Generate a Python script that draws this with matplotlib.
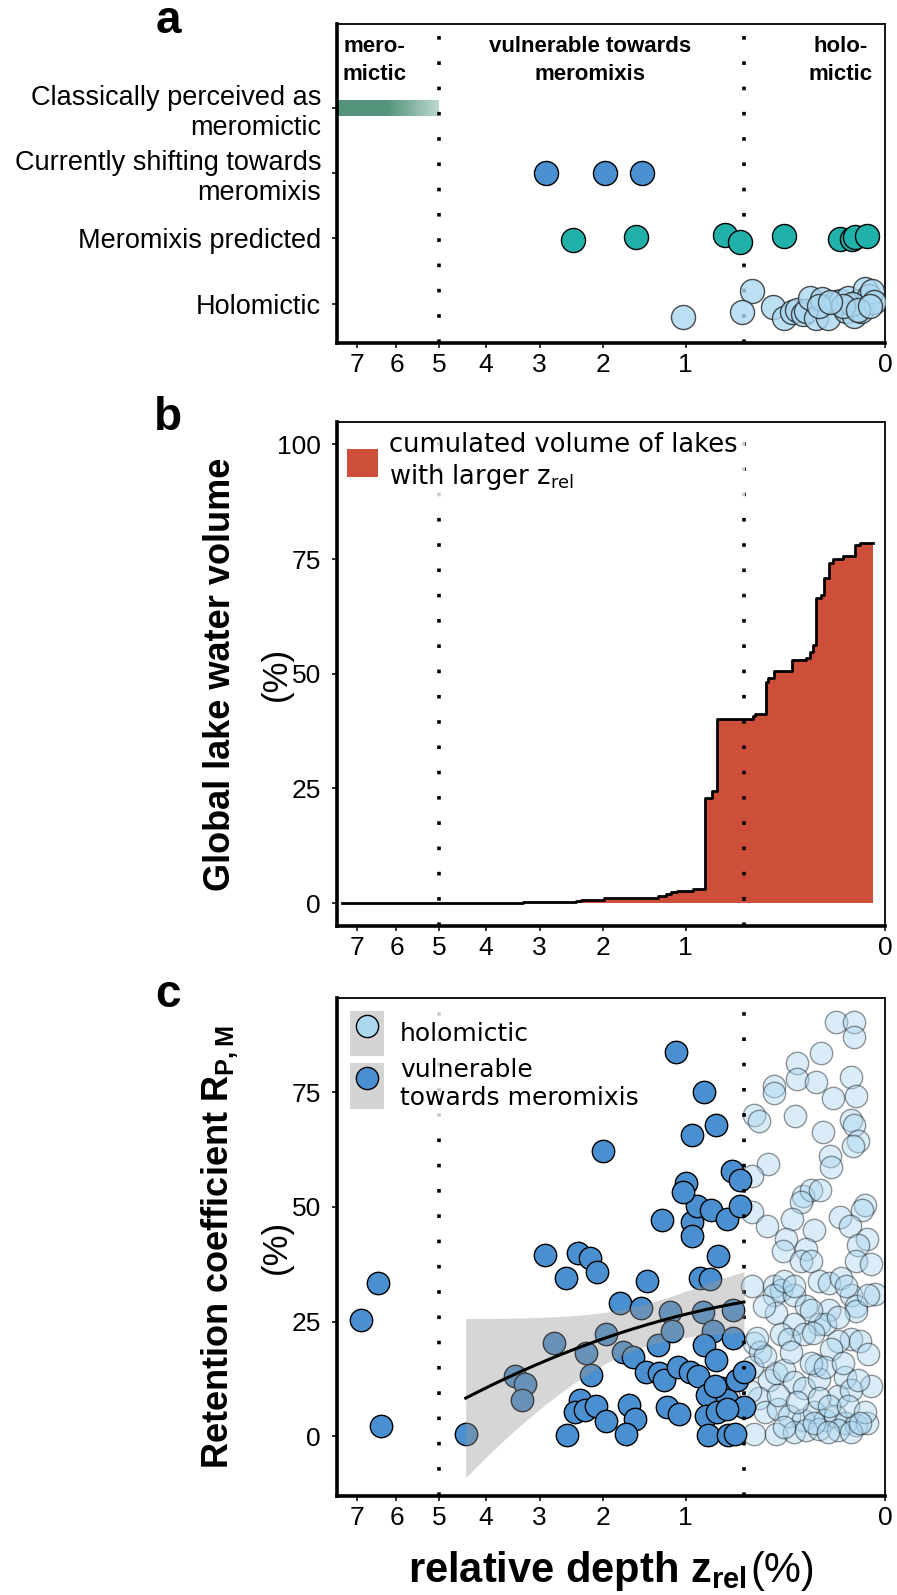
import numpy as np
import matplotlib
matplotlib.use('Agg')
import matplotlib.pyplot as plt
import matplotlib.colors as mcolors
from matplotlib import font_manager
from matplotlib.lines import Line2D
from matplotlib.patches import Patch
from matplotlib.legend_handler import HandlerTuple

plt.rcParams['font.family'] = ['Liberation Sans', 'DejaVu Sans']
plt.rcParams['mathtext.default'] = 'regular'

# ---------------- data: panel a ----------------
cat_labels = ['Holomictic', 'Meromixis predicted',
              'Currently shifting towards\nmeromixis',
              'Classically perceived as\nmeromictic']
classic_range = [8.0, 5.0]
shifting_z = [2.89, 1.97, 1.48]
predicted_z = [2.45, 1.56, 0.644, 0.526, 0.255, 0.052, 0.027, 0.023, 0.0077]
predicted_jit = [-0.03, 0.02, 0.056, -0.056, 0.036, -0.005, -0.005, 0.025, 0.036]
holo_a_z = [1.03, 0.444, 0.515, 0.316, 0.257, 0.218, 0.193, 0.170, 0.155, 0.141,
            0.121, 0.100, 0.081, 0.061, 0.048, 0.038, 0.0335, 0.024, 0.0164, 0.014,
            0.010, 0.0068, 0.0041, 0.003, 0.027, 0.044, 0.109, 0.0755, 0.019, 0.0054]
holo_a_jit = [-0.20, 0.20, -0.13, -0.05, -0.22, -0.13, -0.09, -0.16, -0.11, 0.09,
              -0.21, 0.08, -0.21, 0.02, 0.04, -0.11, 0.09, -0.19, 0.04, -0.11,
              0.22, 0.12, 0.19, 0.02, -0.01, -0.04, -0.04, 0.02, -0.09, -0.04]
zone_bounds = [5.0, 0.5]
zone_labels = ['mero-\nmictic', 'vulnerable towards\nmeromixis', 'holo-\nmictic']
zone_label_z = [6.55, 2.19, 0.05]

# ---------------- data: panel b ----------------
vol_z = [7.4, 3.3, 2.4, 2.33, 1.99, 1.62, 1.29, 1.21, 1.15, 1.09, 0.925, 0.815,
         0.75, 0.71, 0.435, 0.423, 0.359, 0.343, 0.312, 0.218, 0.155, 0.141,
         0.13, 0.121, 0.103, 0.094, 0.078, 0.0676, 0.044, 0.0227, 0.016, 0.0035]
vol_cum = [0.0, 0.15, 0.45, 0.7, 1.0, 1.2, 1.5, 2.0, 2.5, 2.7, 3.0, 22.8,
           24.5, 40.1, 40.7, 41.2, 48.1, 49.1, 50.6, 53.1, 53.5, 54.7,
           56.2, 66.5, 67.2, 70.9, 74.1, 75.0, 75.6, 78.1, 78.6, 78.6]

# ---------------- data: panel c ----------------
vuln_z = [6.89, 6.45, 6.38, 4.42, 2.90, 2.37, 2.19, 2.08, 2.56, 2.005, 2.75, 3.44, 3.26, 3.32,
          2.25, 2.17, 1.96, 1.77, 1.50, 1.42, 1.72, 1.60, 1.44, 1.28, 1.23, 1.30, 1.16, 1.14,
          1.08, 0.96, 0.88, 0.83, 0.74, 0.82, 0.72, 2.34, 2.41, 2.26, 2.10, 1.96, 2.54, 1.65,
          1.57, 1.68, 1.19, 1.07, 0.80, 0.81, 0.79, 0.62, 0.67, 0.63, 1.25, 0.94, 0.94, 0.89,
          0.76, 0.63, 1.00, 1.03, 0.94, 0.82, 0.72, 1.10, 0.70, 0.86, 0.77, 0.59, 0.53, 0.53,
          0.58, 0.58, 0.73, 0.55, 0.50, 0.71, 0.50, 0.565, 0.63]
vuln_r = [25.3, 33.4, 2.2, 0.5, 39.4, 40.0, 38.9, 35.9, 34.4, 62.2, 20.3, 13.1, 11.5, 7.9,
          18.1, 13.3, 22.4, 29.0, 28.0, 33.8, 18.3, 17.2, 14.1, 13.9, 12.2, 19.9, 27.0, 23.0,
          15.2, 14.1, 13.1, 27.0, 23.0, 19.9, 16.6, 7.9, 5.2, 5.8, 6.6, 3.3, 0.3, 6.9,
          3.8, 0.4, 6.3, 4.8, 9.1, 4.4, 0.2, 0.2, 10.6, 7.9, 47.1, 46.6, 43.7, 50.1,
          49.3, 47.4, 55.1, 53.2, 65.7, 75.0, 67.9, 83.7, 39.2, 34.6, 34.2, 57.8, 55.9, 50.1,
          27.6, 21.4, 11.0, 12.2, 14.1, 5.2, 6.3, 0.5, 6.0]
holo_z = [0.060, 0.024, 0.024, 0.103, 0.196, 0.196, 0.12, 0.029, 0.31, 0.31, 0.069, 0.021,
          0.43, 0.40, 0.205, 0.098, 0.029, 0.024, 0.018, 0.026, 0.075, 0.073, 0.345, 0.445,
          0.171, 0.138, 0.105, 0.178, 0.010, 0.013, 0.445, 0.35, 0.216, 0.128, 0.052, 0.030,
          0.0086, 0.248, 0.26, 0.158, 0.018, 0.178, 0.138, 0.021, 0.0046, 0.445, 0.31, 0.27,
          0.108, 0.078, 0.048, 0.029, 0.0025, 0.31, 0.208, 0.158, 0.078, 0.30, 0.021, 0.021,
          0.208, 0.108, 0.092, 0.029, 0.016, 0.0071, 0.056, 0.073, 0.27, 0.23, 0.164, 0.132,
          0.43, 0.39, 0.12, 0.0046, 0.34, 0.30, 0.257, 0.208, 0.164, 0.108, 0.041, 0.056,
          0.029, 0.40, 0.36, 0.29, 0.23, 0.171, 0.126, 0.092, 0.064, 0.041, 0.021, 0.0086,
          0.43, 0.30, 0.208, 0.158, 0.108, 0.056, 0.457, 0.445,
          0.257, 0.208, 0.038, 0.138, 0.056, 0.0071, 0.36, 0.224, 0.138, 0.092, 0.045, 0.018,
          0.29, 0.193, 0.108, 0.078, 0.035, 0.010, 0.257, 0.126, 0.082, 0.029, 0.016, 0.37, 0.41]
holo_r = [90.3, 90.2, 87.1, 83.5, 81.4, 77.9, 77.3, 78.3, 76.4, 74.8, 73.7, 74.1,
          70.0, 68.7, 69.7, 66.3, 69.0, 67.9, 64.4, 63.2, 61.1, 58.6, 59.4, 56.7,
          52.4, 53.6, 53.6, 51.0, 50.5, 49.3, 48.9, 45.8, 47.4, 45.0, 47.8, 45.8,
          43.1, 43.0, 40.4, 40.8, 41.6, 38.1, 38.1, 38.1, 37.5, 32.7, 32.7, 31.9,
          33.8, 33.4, 34.6, 30.7, 31.1, 30.7, 30.7, 28.4, 27.6, 26.9, 28.4, 27.2,
          24.5, 24.5, 24.5, 21.1, 20.7, 18.0, 20.7, 19.1, 22.2, 21.1, 22.2, 22.6,
          20.3, 18.3, 15.6, 11.0, 12.2, 13.7, 14.5, 11.8, 10.6, 12.5, 12.9, 8.7,
          10.2, 8.3, 5.2, 6.0, 4.4, 3.6, 5.2, 3.6, 4.4, 2.9, 2.5, 2.9,
          0.5, 0.5, 0.9, 1.3, 1.7, 1.3, 9.8, 15.2,
          33.8, 32.7, 32.7, 27.6, 26.1, 30.7, 17.6, 18.3, 16.0, 15.2, 16.0, 12.2,
          9.1, 7.5, 8.3, 6.7, 6.7, 5.2, 2.1, 2.9, 0.9, 0.9, 2.9, 28.4, 21.4]

vuln_color = '#4a8fcf'
teal = '#20b2aa'
holo_color = '#abd7f0'
red = '#cd4f3a'

x_ticks = [7, 6, 5, 4, 3, 2, 1, 0]
x_left = 7.55


def fwd(x):
    return np.sqrt(np.clip(x, 0, None))


def inv(x):
    return np.square(x)


def base_style(ax):
    ax.set_xscale('function', functions=(fwd, inv))
    ax.set_xlim(x_left, 0)
    ax.set_xticks(x_ticks)
    ax.set_xticklabels([str(t) for t in x_ticks])
    ax.spines['left'].set_linewidth(2.6)
    ax.spines['bottom'].set_linewidth(2.6)
    ax.spines['top'].set_linewidth(1.3)
    ax.spines['right'].set_linewidth(1.3)
    ax.tick_params(axis='both', length=3.5, width=1.1, labelsize=19, color='black')
    ax.tick_params(axis='x', pad=4)
    ax.tick_params(axis='y', pad=8)
    for z in zone_bounds:
        ax.axvline(z, color='black', lw=2.6, ls=(0, (1, 6)), dash_capstyle='butt', zorder=4)


fig = plt.figure(figsize=(8.97, 15.95), dpi=100)
L, W = 337 / 897, 548 / 897
ax_a = fig.add_axes([L, 1 - 343 / 1595, W, 319 / 1595])
ax_b = fig.add_axes([L, 1 - 926 / 1595, W, 504.5 / 1595])
ax_c = fig.add_axes([L, 1 - 1496 / 1595, W, 498 / 1595])

# ================= panel a =================
base_style(ax_a)
ax_a.set_ylim(0.40, 5.28)
ax_a.set_yticks([1, 2, 3, 4])
ax_a.set_yticklabels(cat_labels, fontsize=19.5, ha='right', multialignment='right')

# gradient bar for classically meromictic lakes
s0, s1 = np.sqrt(classic_range[1]), np.sqrt(classic_range[0])
edges = np.linspace(s0, s1, 61) ** 2
dark = np.array(mcolors.to_rgb('#52937a'))
light = np.array(mcolors.to_rgb('#b9d6ca'))
for i in range(60):
    f = (np.sqrt(edges[i]) - s0) / (np.sqrt(x_left) - s0)
    w = min(1.0, f / 0.5)
    col = light + (dark - light) * w
    ax_a.barh(4, edges[i + 1] - edges[i], left=edges[i], height=0.24,
              color=col, edgecolor='none', zorder=2)

ax_a.scatter(shifting_z, [3] * len(shifting_z), s=300, c=vuln_color,
             edgecolors='black', linewidths=1.0, zorder=5)
ax_a.scatter(predicted_z, 2 + np.array(predicted_jit), s=300, c=teal,
             edgecolors='black', linewidths=1.0, zorder=5)
ax_a.scatter(holo_a_z, 1 + np.array(holo_a_jit), s=300, c=holo_color, alpha=0.8,
             edgecolors='#222222', linewidths=1.0, zorder=5)

names = {f.name for f in font_manager.fontManager.ttflist}
if 'Liberation Sans Narrow' in names:
    head_font, head_size = 'Liberation Sans Narrow', 19
else:
    head_font, head_size = 'Liberation Sans', 16
for zx, lab in zip(zone_label_z, zone_labels):
    ax_a.text(zx, 4.72, lab, ha='center', va='center', fontsize=head_size,
              fontweight='bold', family=head_font, linespacing=1.4)

# ================= panel b =================
base_style(ax_b)
ax_b.set_ylim(-5, 105)
ax_b.set_yticks([0, 25, 50, 75, 100])
ax_b.fill_between(vol_z, vol_cum, 0, step='post', color=red, lw=0, zorder=2,
                  label='cumulated volume of lakes\nwith larger z$_{rel}$')
ax_b.step(vol_z, vol_cum, where='post', color='black', lw=2.0, zorder=3)
leg_b = ax_b.legend(loc='upper left', bbox_to_anchor=(0.0, 1.0), borderaxespad=0.1,
                    borderpad=0.3, prop={'family': 'DejaVu Sans', 'size': 18.5},
                    handlelength=1.2, handleheight=1.3, handletextpad=0.42,
                    frameon=True, fancybox=False, framealpha=0.8, edgecolor='none')
leg_b.set_zorder(10)

# ================= panel c =================
base_style(ax_c)
ax_c.set_ylim(-13, 95.5)
ax_c.set_yticks([0, 25, 50, 75])

ax_c.scatter(holo_z, holo_r, s=260, facecolors=mcolors.to_rgba(holo_color, 0.45),
             edgecolors=(0, 0, 0, 0.4), linewidths=1.0, zorder=2)
ax_c.scatter(vuln_z, vuln_r, s=260, c=vuln_color, edgecolors='black',
             linewidths=1.0, zorder=3)

# linear fit with 95% confidence band for vulnerable lakes between the bounds
vz = np.array(vuln_z)
vr = np.array(vuln_r)
m = (vz <= zone_bounds[0]) & (vz >= zone_bounds[1])
xf, yf = vz[m], vr[m]
b1, b0 = np.polyfit(xf, yf, 1)
n = len(xf)
resid = yf - (b0 + b1 * xf)
s_err = np.sqrt(np.sum(resid ** 2) / (n - 2))
xs = np.linspace(xf.min(), xf.max(), 200)
se = s_err * np.sqrt(1 / n + (xs - xf.mean()) ** 2 / np.sum((xf - xf.mean()) ** 2))
t_crit = 1.99
ax_c.fill_between(xs, b0 + b1 * xs - t_crit * se, b0 + b1 * xs + t_crit * se,
                  color='#999999', alpha=0.4, lw=0, zorder=4)
ax_c.plot(xs, b0 + b1 * xs, color='black', lw=2.2, zorder=5)

key_bg = '#d4d4d4'
h_holo = (Patch(facecolor=key_bg, edgecolor='none'),
          Line2D([], [], marker='o', ls='', ms=16, mfc=holo_color, mec='black', mew=1.0))
h_vuln = (Patch(facecolor=key_bg, edgecolor='none'),
          Line2D([], [], marker='o', ls='', ms=16, mfc=vuln_color, mec='black', mew=1.0))
leg_c = ax_c.legend([h_holo, h_vuln], ['holomictic', 'vulnerable\ntowards meromixis'],
                    handler_map={tuple: HandlerTuple(ndivide=1, pad=0)},
                    loc='upper left', bbox_to_anchor=(0.0, 1.0), borderaxespad=0.1,
                    borderpad=0.4, prop={'family': 'DejaVu Sans', 'size': 18},
                    handlelength=1.36, handleheight=2.44, handletextpad=0.65,
                    labelspacing=0.08, frameon=True, fancybox=False,
                    framealpha=0.8, edgecolor='none')
leg_c.set_zorder(10)

# ================= labels =================
for lab, yb in zip(['a', 'b', 'c'], [33, 430, 1007]):
    fig.text(168 / 897, 1 - yb / 1595, lab, fontsize=33, fontweight='bold',
             ha='center', va='baseline')

fig.text(220 / 897, 1 - 674 / 1595, 'Global lake water volume', rotation=90,
         fontsize=26, fontweight='bold', ha='center', va='center')
fig.text(276 / 897, 1 - 674 / 1595, '(%)', rotation=90, fontsize=25,
         ha='center', va='center')
fig.text(220 / 897, 1 - 1247 / 1595, 'Retention coefficient R$_{P,M}$', rotation=90,
         fontsize=26, fontweight='bold', ha='center', va='center')
fig.text(276 / 897, 1 - 1247 / 1595, '(%)', rotation=90, fontsize=25,
         ha='center', va='center')
fig.text(747 / 897, 1 - 1571 / 1595, 'relative depth z$_{rel}$', fontsize=30,
         fontweight='bold', ha='right', va='center')
fig.text(750 / 897, 1 - 1571 / 1595, '(%)', fontsize=30, ha='left', va='center')

fig.savefig('out.png', dpi=100, facecolor='white')
